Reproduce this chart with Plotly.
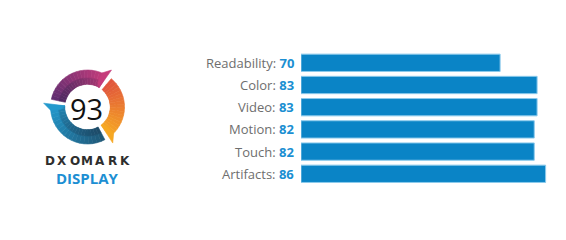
import math
import plotly.graph_objects as go

# ---------------- data ----------------
categories = ["Readability", "Color", "Video", "Motion", "Touch", "Artifacts"]
scores = [70, 83, 83, 82, 82, 86]
overall_score = 93
brand = "DXOMARK"
product = "DISPLAY"

W, H = 566, 240
BAR_COLOR = "#0a84c6"
BAR_EDGE = "#8ccaec"
LABEL_COLOR = "#6e6e6e"
VALUE_COLOR = "#1b8fd2"

fig = go.Figure()

# ---------------- bars ----------------
fig.add_trace(go.Bar(
    x=scores, y=categories, orientation="h",
    marker=dict(color=BAR_COLOR, line=dict(color=BAR_EDGE, width=1)),
    width=0.78, hoverinfo="skip", showlegend=False,
    xaxis="x", yaxis="y",
))

annotations = []
for cat, val in zip(categories, scores):
    annotations.append(dict(
        xref="paper", yref="y", x=296 / W, y=cat, xanchor="right", yanchor="middle",
        text=f"{cat}: <b><span style='color:{VALUE_COLOR}'>{val}</span></b>",
        showarrow=False, font=dict(family="Open Sans", size=13, color=LABEL_COLOR),
    ))

# ---------------- logo (decoration, pixel coordinates on x2/y2) ----------------
cx, cy = 87.5, 107.0
R_OUT, R_IN, R_TIP = 37.0, 22.5, 44.0
R_MID = 29.0


def pt(r, a):
    a = math.radians(a)
    return cx + r * math.cos(a), cy - r * math.sin(a)


def mix(c1, c2, t):
    a = [int(c1[i:i + 2], 16) for i in (1, 3, 5)]
    b = [int(c2[i:i + 2], 16) for i in (1, 3, 5)]
    return "#" + "".join(f"{round(a[k] + (b[k] - a[k]) * t):02x}" for k in range(3))


segments = [
    # start angle, tip angle, colour at start, colour at tip, inner shade colour, shade strength
    (168, 57, "#5e2d70", "#c53c7b", "#3c2450", 0.45),
    (50, -55, "#e0533d", "#f6a823", "#e0533d", 0.0),
    (-62, -185, "#1f5675", "#2399cd", "#1a3d58", 0.5),
]


def add_poly(pts, color):
    xs = [p[0] for p in pts] + [pts[0][0]]
    ys = [p[1] for p in pts] + [pts[0][1]]
    fig.add_trace(go.Scatter(
        x=xs, y=ys, mode="lines", fill="toself", fillcolor=color,
        line=dict(color=color, width=0.6), hoverinfo="skip", showlegend=False,
        xaxis="x2", yaxis="y2",
    ))


def band(r1, r2, s0, s1, color):
    pts = []
    steps = 4
    for k in range(steps + 1):
        pts.append(pt(r2, s0 + (s1 - s0) * k / steps))
    for k in range(steps, -1, -1):
        pts.append(pt(r1, s0 + (s1 - s0) * k / steps))
    add_poly(pts, color)


N = 18
for a0, a1, c0, c1, shade, strength in segments:
    a_end_in = a1 + 2
    a_end_out = a1 + 10
    for i in range(N):
        t0, t1 = i / N, (i + 1) / N
        s0 = a0 + (a_end_in - a0) * t0
        s1 = a0 + (a_end_in - a0) * t1
        col = mix(c0, c1, (t0 + t1) / 2)
        band(R_MID - 0.4, R_OUT, s0, s1, col)
        # darker inner band, fading along the arc
        inner = mix(col, shade, strength * (1 - (t0 + t1) / 2 * 0.6))
        band(R_IN, R_MID, s0, s1, inner)
    # tail / tip
    add_poly([pt(R_OUT, a_end_out), pt(R_TIP, a1), pt(R_IN, a_end_in),
              pt(R_IN + 4, a_end_out)], c1)

# inner white disc
disc = [pt(R_IN - 0.3, a) for a in range(0, 361, 6)]
fig.add_trace(go.Scatter(
    x=[p[0] for p in disc], y=[p[1] for p in disc], mode="lines", fill="toself",
    fillcolor="white", line=dict(color="white", width=0), hoverinfo="skip",
    showlegend=False, xaxis="x2", yaxis="y2",
))

annotations.append(dict(
    xref="x2", yref="y2", x=cx - 1, y=108.5, text=str(overall_score), showarrow=False,
    xanchor="center", yanchor="middle",
    font=dict(family="Open Sans", size=29, color="#111111", weight=500),
))
pitch = 12.6
start = 49.5
for i, ch in enumerate(brand):
    annotations.append(dict(
        xref="x2", yref="y2", x=start + i * pitch, y=161, text=ch, showarrow=False,
        xanchor="center", yanchor="middle",
        font=dict(family="DejaVu Sans", size=12, color="#2e2e2e", weight="bold"),
    ))
annotations.append(dict(
    xref="x2", yref="y2", x=87.5, y=178, text=f"<b>{product}</b>", showarrow=False,
    xanchor="center", yanchor="middle",
    font=dict(family="Open Sans", size=15, color="#1d8fd3"),
))

top_px, bot_px = 51.7, 184.9
fig.update_layout(
    width=W, height=H, margin=dict(l=0, r=0, t=0, b=0),
    paper_bgcolor="white", plot_bgcolor="rgba(0,0,0,0)",
    bargap=0.2,
    xaxis=dict(domain=[301 / W, 557 / W], range=[0, 90], visible=False, fixedrange=True),
    yaxis=dict(domain=[1 - bot_px / H, 1 - top_px / H], autorange="reversed",
               categoryorder="array", categoryarray=categories,
               visible=False, fixedrange=True),
    xaxis2=dict(domain=[0, 200 / W], range=[0, 200], visible=False, fixedrange=True),
    yaxis2=dict(domain=[0, 1], range=[240, 0], visible=False, fixedrange=True),
    annotations=annotations,
    showlegend=False,
)

fig.write_html("out.html", config={"displayModeBar": False})
